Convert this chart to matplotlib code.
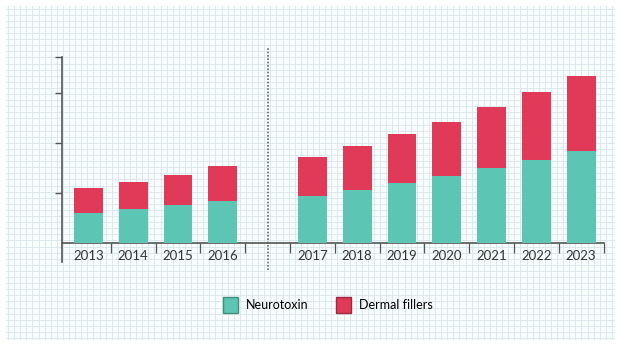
import numpy as np
import matplotlib
matplotlib.use('Agg')
import matplotlib.pyplot as plt
from matplotlib.patches import Patch

years = ['2013', '2014', '2015', '2016', '2017', '2018', '2019', '2020', '2021', '2022', '2023']
neurotoxin = [0.60, 0.68, 0.76, 0.84, 0.94, 1.06, 1.20, 1.34, 1.50, 1.66, 1.84]
dermal_fillers = [0.50, 0.54, 0.60, 0.70, 0.78, 0.88, 0.98, 1.08, 1.22, 1.36, 1.50]
series_names = ['Neurotoxin', 'Dermal fillers']

teal = '#5cc5b3'
red = '#e13a58'
axis_col = '#555555'

plt.rcParams['font.family'] = ['Lato', 'DejaVu Sans']

fig = plt.figure(figsize=(6.21, 3.47), dpi=100)
fig.patch.set_facecolor('white')

# graph-paper background
bg = fig.add_axes([6 / 621, 7 / 347, 609 / 621, 334 / 347])
bg.set_facecolor('#f7fcfc')
bg.set_xlim(0, 609)
bg.set_ylim(0, 334)
for gx in np.arange(2, 609, 6.1):
    bg.axvline(gx, color='#dde8ec', lw=0.7)
for gy in np.arange(2, 334, 6.1):
    bg.axhline(gy, color='#dde8ec', lw=0.7)
bg.set_xticks([])
bg.set_yticks([])
for s in bg.spines.values():
    s.set_visible(False)

# bar positions: first four years, a gap, then the rest
gap_pos = 4
pos = [i if i < gap_pos else i + 1 for i in range(len(years))]

ax = fig.add_axes([62 / 621, 85 / 347, 541.6 / 621, 205 / 347])
ax.patch.set_alpha(0)
ax.bar(pos, neurotoxin, width=0.64, color=teal, zorder=3)
ax.bar(pos, dermal_fillers, width=0.64, bottom=neurotoxin, color=red, zorder=3)

ax.set_xlim(-0.59, 11.5)
ax.set_ylim(-0.38, 3.72)
ax.spines['top'].set_visible(False)
ax.spines['right'].set_visible(False)
ax.spines['bottom'].set_position(('data', 0))
ax.spines['left'].set_color(axis_col)
ax.spines['bottom'].set_color(axis_col)
ax.spines['left'].set_linewidth(1.2)
ax.spines['bottom'].set_linewidth(1.2)

ax.set_yticks([1, 2, 3, 3.72])
ax.set_yticklabels([])
ax.tick_params(axis='y', direction='out', length=5, color=axis_col, width=1)

ax.set_xticks(pos)
ax.set_xticklabels(years, fontsize=9.5, color='#333333')
ax.tick_params(axis='x', which='major', length=0, pad=5)
bounds = [p + 0.5 for p in range(max(pos) + 1)]
ax.set_xticks(bounds, minor=True)
ax.tick_params(axis='x', which='minor', direction='out', length=7, color=axis_col, width=0.9)

# dotted divider in the gap
ax.plot([gap_pos, gap_pos], [-0.54, 3.92], ls=(0, (1, 1)), color='#666666', lw=1.2, clip_on=False)

handles = [Patch(facecolor=teal, edgecolor='#3f8f80', lw=1),
           Patch(facecolor=red, edgecolor='#9e2a3e', lw=1)]
fig.legend(handles, series_names, loc='center', bbox_to_anchor=(0.528, 0.121), ncol=2,
           frameon=False, handlelength=1.2, handleheight=1.6, handletextpad=0.6,
           columnspacing=2.2, prop={'size': 9})

fig.savefig('out.png', dpi=100)
